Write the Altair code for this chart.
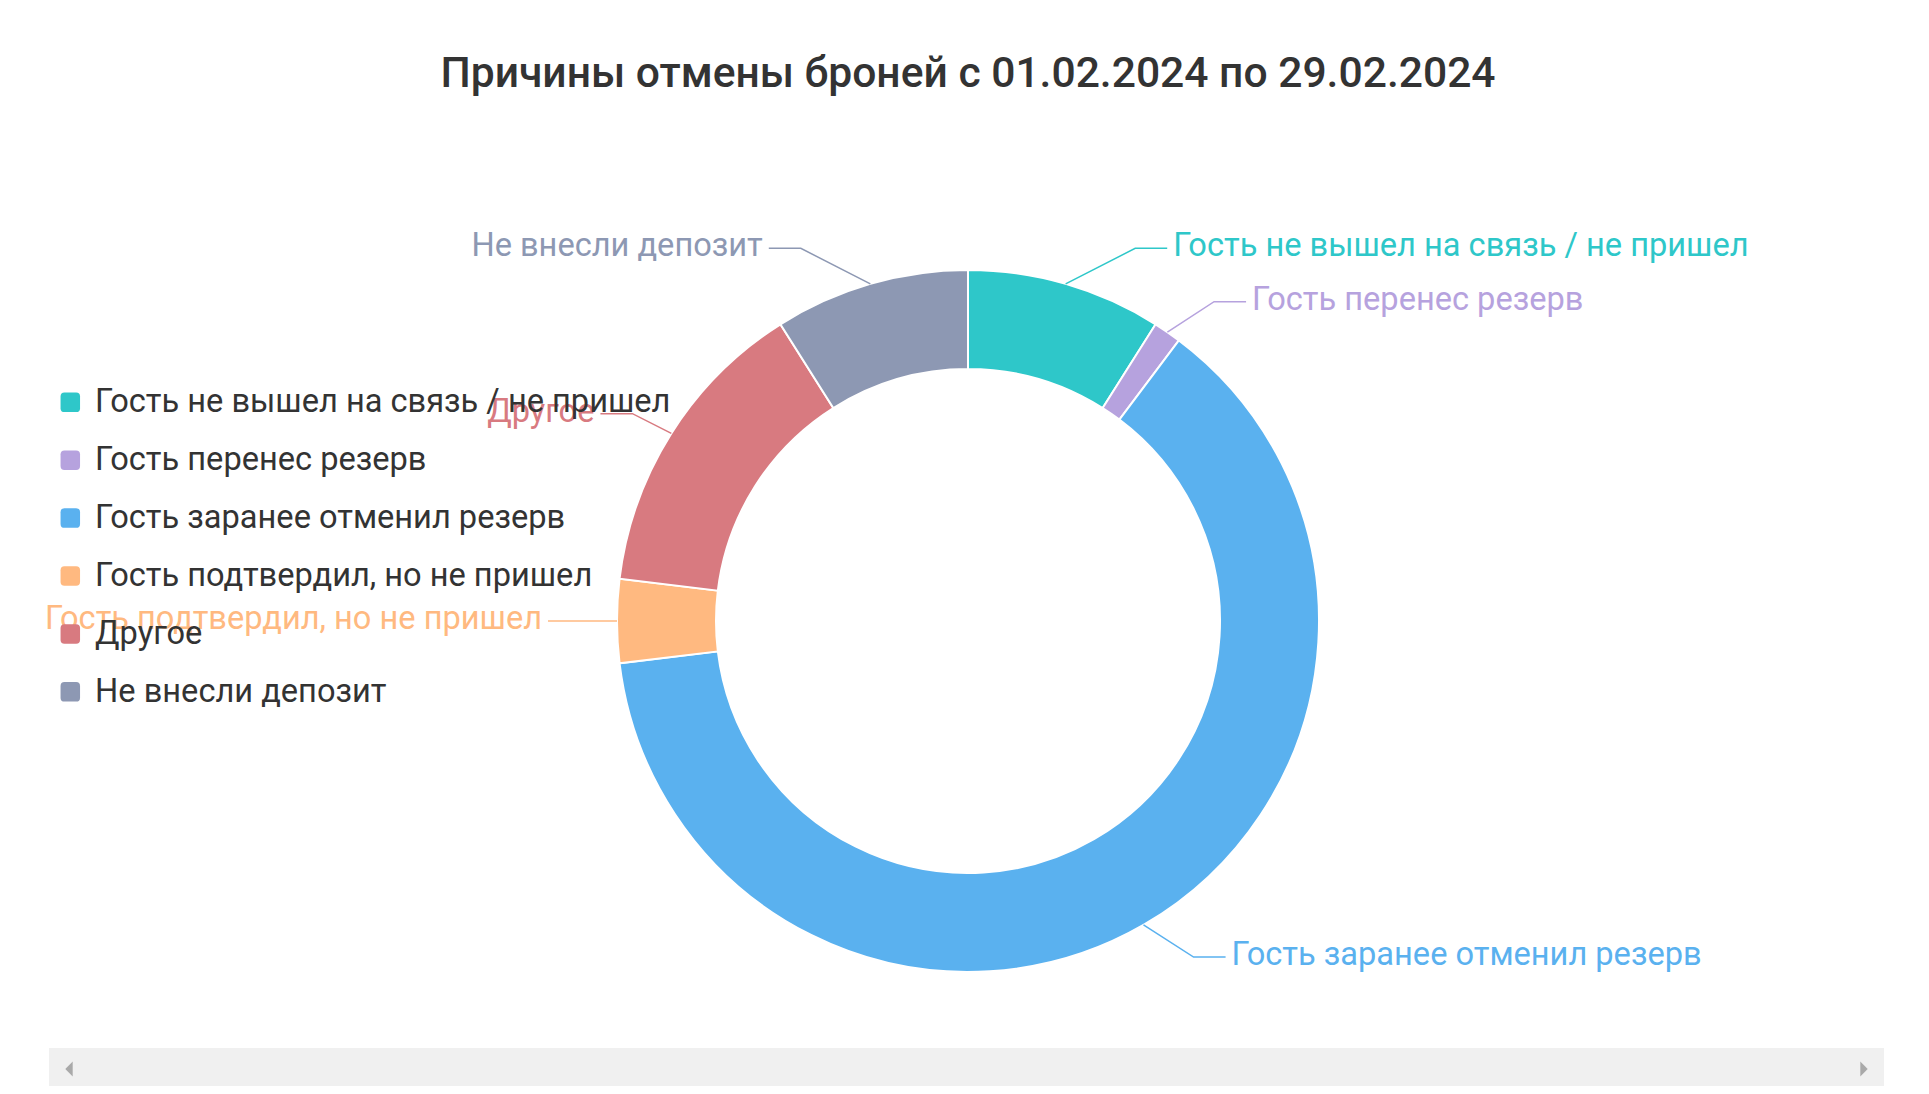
import altair as alt
import numpy as np
import pandas as pd

# ---- data ----
categories = [
    "Гость не вышел на связь / не пришел",
    "Гость перенес резерв",
    "Гость заранее отменил резерв",
    "Гость подтвердил, но не пришел",
    "Другое",
    "Не внесли депозит",
]
counts = [7, 1, 49, 3, 11, 7]
colors = ["#2ec7c9", "#b6a2de", "#5ab1ef", "#ffb980", "#d87a80", "#8d98b3"]
title_text = "Причины отмены броней с 01.02.2024 по 29.02.2024"

# ---- layout (pixels) ----
W, H = 1913, 1078
CX, CY = 960, 613
R_OUT, R_IN = 351, 252
L1, L2, GAP = 37, 32, 6
A_ELL = R_OUT + L1
B_ELL = R_OUT + L1 + 25
FONT = "Roboto"
FS = 32.6

total = float(sum(counts))
cum = np.concatenate([[0], np.cumsum(counts)])
mid = (cum[:-1] + cum[1:]) / 2.0 / total * 2 * np.pi

slices = pd.DataFrame({"cat": categories, "count": counts, "idx": range(len(categories)),
                       "cx": 0.0, "cy": 0.0})

line_rows, label_rows = [], []
for i, (c, th) in enumerate(zip(categories, mid)):
    s = 1.0 if np.sin(th) >= 0 else -1.0
    x0, y0 = R_OUT * np.sin(th), -R_OUT * np.cos(th)
    ey = -(R_OUT + L1) * np.cos(th)
    ex = s * A_ELL * np.sqrt(max(0.0, 1 - ey ** 2 / B_ELL ** 2))
    x2 = ex + s * L2
    line_rows += [(c, 0, x0, y0), (c, 1, ex, ey), (c, 2, x2, ey)]
    label_rows.append((c, x2 + s * GAP, ey, "right" if s > 0 else "left"))

lines = pd.DataFrame(line_rows, columns=["cat", "k", "x", "y"])
labels = pd.DataFrame(label_rows, columns=["cat", "x", "y", "side"])

xs = alt.Scale(domain=[-CX, W - CX], nice=False, zero=False)
ys = alt.Scale(domain=[H - CY, -CY], nice=False, zero=False)
cs = alt.Scale(domain=categories, range=colors)

rounded_sq = "M-1,-0.6 Q-1,-1 -0.6,-1 L0.6,-1 Q1,-1 1,-0.6 L1,0.6 Q1,1 0.6,1 L-0.6,1 Q-1,1 -1,0.6 Z"

legend = alt.Legend(
    orient="none", legendX=46, legendY=378, title=None,
    symbolType=rounded_sq, symbolSize=380, symbolStrokeWidth=0,
    labelFont=FONT, labelFontSize=FS, labelColor="#333333",
    labelOffset=8.5, rowPadding=24.9, labelLimit=800,
)

arc = alt.Chart(slices).mark_arc(
    innerRadius=R_IN, outerRadius=R_OUT, stroke="white", strokeWidth=2
).encode(
    theta=alt.Theta("count:Q", stack=True),
    order=alt.Order("idx:Q"),
    color=alt.Color("cat:N", scale=cs, legend=legend, sort=categories),
    x=alt.X("cx:Q", scale=xs, axis=None),
    y=alt.Y("cy:Q", scale=ys, axis=None),
)

leader = alt.Chart(lines).mark_line(strokeWidth=1.5).encode(
    x=alt.X("x:Q", scale=xs, axis=None),
    y=alt.Y("y:Q", scale=ys, axis=None),
    color=alt.Color("cat:N", scale=cs, legend=None),
    detail="cat:N",
    order="k:Q",
)

def label_layer(side, align):
    return alt.Chart(labels[labels.side == side]).mark_text(
        align=align, baseline="middle", font=FONT, fontSize=FS, dy=-2
    ).encode(
        x=alt.X("x:Q", scale=xs, axis=None),
        y=alt.Y("y:Q", scale=ys, axis=None),
        text="cat:N",
        color=alt.Color("cat:N", scale=cs, legend=None),
    )

lab_r = label_layer("right", "left")
lab_l = label_layer("left", "right")

title = alt.Chart(pd.DataFrame({"t": [title_text]})).mark_text(
    align="center", baseline="middle", font=FONT, fontSize=42.6, fontWeight=500, color="#333333"
).encode(x=alt.value(CX), y=alt.value(66), text="t:N")

# scrollbar decoration at the bottom
bar = alt.Chart(pd.DataFrame({"a": [0]})).mark_rect(color="#f0f0f0").encode(
    x=alt.value(41), x2=alt.value(1876), y=alt.value(1040), y2=alt.value(H)
)
arrows = pd.DataFrame({"s": ["l", "r"]})
arr_l = alt.Chart(arrows[arrows.s == "l"]).mark_point(
    shape="M0.5,-1 L-0.5,0 L0.5,1 Z", size=220, filled=True, color="#a9a9a9", opacity=1
).encode(x=alt.value(61), y=alt.value(1061))
arr_r = alt.Chart(arrows[arrows.s == "r"]).mark_point(
    shape="M-0.5,-1 L0.5,0 L-0.5,1 Z", size=220, filled=True, color="#a9a9a9", opacity=1
).encode(x=alt.value(1856), y=alt.value(1061))

chart = alt.layer(arc, leader, lab_r, lab_l, title, bar, arr_l, arr_r).properties(
    width=W, height=H, autosize=alt.AutoSizeParams(type="none"), padding=0,
    background="white",
).configure_view(stroke=None, strokeWidth=0)

chart.save("out.html", embed_options={"renderer": "svg", "actions": False})
